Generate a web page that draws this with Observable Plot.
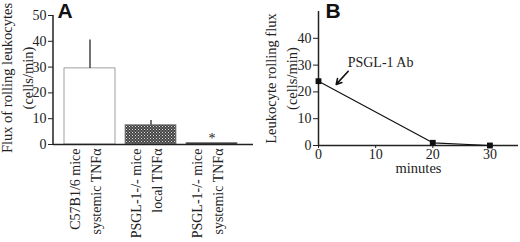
<!DOCTYPE html>
<html><head><meta charset="utf-8">
<script src="https://cdn.jsdelivr.net/npm/d3@7"></script>
<script src="https://cdn.jsdelivr.net/npm/@observablehq/plot@0.6"></script>
<style>
body{margin:0;background:#fff}
#wrap{display:flex;width:520px;height:242px;overflow:hidden}
#wrap svg{flex:none}
</style>
</head><body><div id="wrap"></div>
<script>
// ---- Panel A data ----
const categories = ["C57B1/6 mice\nsystemic TNFα", "PSGL-1-/- mice\nlocal TNFα", "PSGL-1-/- mice\nsystemic TNFα"];
const fluxMeans = [29.5, 7.5, 0.6];
const fluxUpper = [40.5, 9.3, null];
const significance = ["", "", "*"];
const yTicksA = [0, 10, 20, 30, 40, 50];
const yLabelA = "Flux of rolling leukocytes\n(cells/min)";
// ---- Panel B data ----
const minutes = [0, 20, 30];
const rollingFlux = [24, 1, 0];
const yTicksB = [0, 10, 20, 30, 40];
const xTicksB = [0, 10, 20, 30];
const yLabelB = "Leukocyte rolling flux\n(cells/min)";
const xLabelB = "minutes";
const annotationText = ["PSGL-1 Ab"];
const annotationAt = [5.1, 31];
const arrowFrom = [5.2, 27.7];
const arrowTo = [3.1, 22.8];

const serif = "'Liberation Serif', 'Times New Roman', serif";
const sans = "'Liberation Sans', Arial, sans-serif";
const ink = "#222";

const dataA = categories.map((c, i) => ({cat: c, mean: fluxMeans[i], hi: fluxUpper[i], sig: significance[i]}));
const errA = dataA.filter(d => d.hi != null);

const yAxisLineA = (index, scales, values, dim) => {
  const g = d3.create("svg:line")
    .attr("x1", dim.marginLeft).attr("x2", dim.marginLeft)
    .attr("y1", dim.marginTop).attr("y2", dim.height - dim.marginBottom)
    .attr("stroke", ink).attr("stroke-width", 1.5);
  return g.node();
};

const plotA = Plot.plot({
  width: 260, height: 242,
  marginLeft: 53, marginRight: 7, marginTop: 15, marginBottom: 98,
  style: {fontFamily: serif, fontSize: "14px", color: ink, background: "white", overflow: "visible"},
  x: {domain: categories, paddingInner: 0.16, paddingOuter: 0.2, align: 0.4, axis: null},
  y: {domain: [0, 50], axis: null},
  color: {domain: categories, range: ["white", "url(#hatchA)", "#111"]},
  marks: [
    Plot.barY(dataA, {x: "cat", y: "mean", fill: "cat", stroke: "#888", strokeWidth: 0.8}),
    Plot.ruleX(errA, {x: "cat", y1: "mean", y2: "hi", stroke: "#444", strokeWidth: 1.5}),
    Plot.ruleY(errA, {x: "cat", y: "hi", insetLeft: 11, insetRight: 11, stroke: "#444", strokeWidth: 1.5}),
    Plot.text(dataA, {x: "cat", y: "mean", text: "sig", dy: -4, fontSize: 14, fontFamily: serif, fill: ink}),
    Plot.ruleY([0], {stroke: ink, strokeWidth: 1.5}),
    yAxisLineA,
    Plot.axisY({ticks: yTicksA, tickSize: 5, tickPadding: 2, fontSize: 14, fontFamily: serif, label: null, stroke: ink}),
    Plot.text(dataA, {x: "cat", y: 0, text: "cat", rotate: -90, textAnchor: "end", lineAnchor: "middle", lineHeight: 1.5, dy: 4, dx: -6, fontSize: 14, fontFamily: serif, fill: ink}),
    Plot.text([yLabelA], {frameAnchor: "left", rotate: -90, dx: -38, dy: -2, textAnchor: "middle", lineAnchor: "middle", lineHeight: 1.45, fontSize: 14.5, fontFamily: serif, fill: ink}),
    Plot.text(["A"], {frameAnchor: "top-left", dx: 4, dy: -12, textAnchor: "start", lineAnchor: "top", fontFamily: sans, fontWeight: "bold", fontSize: 21, fill: "#111"})
  ]
});

d3.select(plotA).insert("defs", ":first-child").html(
  '<pattern id="hatchA" width="3" height="3" patternUnits="userSpaceOnUse">' +
  '<rect width="3" height="3" fill="#444"/>' +
  '<rect x="0" y="0" width="1" height="1" fill="#ddd"/>' +
  '<rect x="1.5" y="1.5" width="1" height="1" fill="#bbb"/>' +
  '</pattern>');

const dataB = minutes.map((m, i) => ({m, v: rollingFlux[i]}));

const plotB = Plot.plot({
  width: 260, height: 242,
  marginLeft: 58, marginRight: 2, marginTop: 11, marginBottom: 97,
  style: {fontFamily: serif, fontSize: "14px", color: ink, background: "white", overflow: "visible"},
  x: {domain: [0, 35], axis: null},
  y: {domain: [0, 50], axis: null},
  marks: [
    Plot.ruleY([0], {stroke: ink, strokeWidth: 1.5}),
    Plot.ruleX([0], {stroke: ink, strokeWidth: 1.5}),
    Plot.axisY({ticks: yTicksB, tickSize: 5, tickPadding: 2, fontSize: 14, fontFamily: serif, label: null, stroke: ink}),
    Plot.axisX({ticks: xTicksB, tickSize: 3, tickPadding: 1, fontSize: 14, fontFamily: serif, label: null, stroke: ink}),
    Plot.text([xLabelB], {frameAnchor: "bottom", dy: 27, fontSize: 14.5, fontFamily: serif, fill: ink}),
    Plot.line(dataB, {x: "m", y: "v", stroke: "#111", strokeWidth: 1.2}),
    Plot.dot(dataB, {x: "m", y: "v", symbol: "square", r: 3.3, fill: "#111", stroke: "none"}),
    Plot.text(annotationText, {x: () => annotationAt[0], y: () => annotationAt[1], textAnchor: "start", fontSize: 14, fontFamily: serif, fill: ink}),
    Plot.arrow([0], {x1: () => arrowFrom[0], y1: () => arrowFrom[1], x2: () => arrowTo[0], y2: () => arrowTo[1], headLength: 8, strokeWidth: 1.6, stroke: "#111"}),
    Plot.text([yLabelB], {frameAnchor: "left", rotate: -90, dx: -39, textAnchor: "middle", lineAnchor: "middle", lineHeight: 1.45, fontSize: 14.5, fontFamily: serif, fill: ink}),
    Plot.text(["B"], {frameAnchor: "top-left", dx: 7, dy: -8, textAnchor: "start", lineAnchor: "top", fontFamily: sans, fontWeight: "bold", fontSize: 21, fill: "#111"})
  ]
});

document.getElementById("wrap").append(plotA, plotB);
</script>
</body></html>
